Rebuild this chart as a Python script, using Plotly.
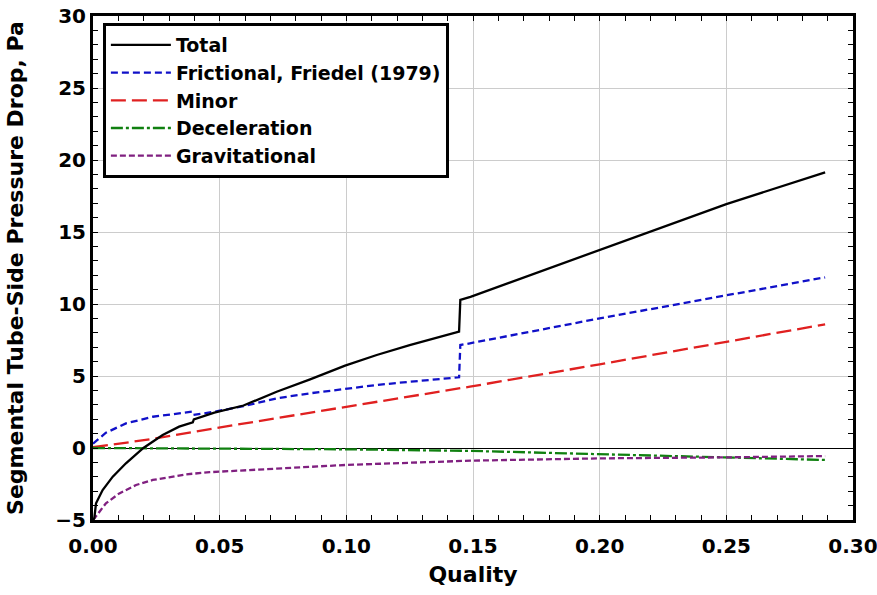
import plotly.graph_objects as go

# ---- data ----
total_x = [0, 0.0005, 0.0012, 0.0038, 0.0078, 0.013, 0.0199, 0.0275, 0.034, 0.0394, 0.0398,
           0.0479, 0.0594, 0.0725, 0.0857, 0.0995, 0.112, 0.125, 0.1445, 0.145, 0.149,
           0.2, 0.25, 0.289]
total_y = [-5.0, -4.88, -3.84, -2.92, -1.99, -1.06, 0.0, 0.9, 1.48, 1.78, 1.99,
           2.45, 2.95, 3.91, 4.77, 5.72, 6.46, 7.15, 8.08, 10.28, 10.5,
           13.75, 16.94, 19.14]

fric_x = [0, 0.0051, 0.013, 0.0236, 0.034, 0.039, 0.0395, 0.0479, 0.0594, 0.0725, 0.0857,
          0.0995, 0.112, 0.125, 0.1445, 0.145, 0.1488, 0.2, 0.25, 0.289]
fric_y = [0.3, 1.06, 1.71, 2.17, 2.4, 2.52, 2.29, 2.52, 2.9, 3.45, 3.8,
          4.1, 4.375, 4.6, 4.91, 7.15, 7.27, 9.0, 10.62, 11.85]

minor_x = [0, 0.0236, 0.048, 0.0995, 0.1488, 0.2, 0.25, 0.289]
minor_y = [0.05, 0.63, 1.37, 2.82, 4.26, 5.81, 7.38, 8.59]

decel_x = [0, 0.05, 0.0995, 0.149, 0.2, 0.25, 0.289]
decel_y = [0.0, -0.03, -0.09, -0.2, -0.42, -0.65, -0.83]

grav_x = [0, 0.0005, 0.0051, 0.0104, 0.017, 0.0236, 0.030, 0.0367, 0.046, 0.0995,
          0.149, 0.2, 0.25, 0.289]
grav_y = [-5.0, -4.9, -3.84, -3.15, -2.57, -2.22, -2.04, -1.83, -1.68, -1.18,
          -0.88, -0.72, -0.65, -0.56]

names = ["Total", "Frictional, Friedel (1979)", "Minor", "Deceleration", "Gravitational"]

FONT = "DejaVu Sans, Liberation Sans, Arial, sans-serif"

fig = go.Figure()
series = [
    (fric_x, fric_y, names[1], "#1010c8", "7px,4px", 2),
    (minor_x, minor_y, names[2], "#e02020", "15px,6px", 3),
    (decel_x, decel_y, names[3], "#108010", "12px,3px,3px,3px", 4),
    (grav_x, grav_y, names[4], "#802080", "6px,3px", 5),
    (total_x, total_y, names[0], "black", "solid", 1),
]
for x, y, nm, col, dash, rank in series:
    fig.add_trace(go.Scatter(x=x, y=y, name=nm, mode="lines", legendrank=rank,
                             line=dict(color=col, width=2.3, dash=dash)))

fig.update_layout(
    width=877, height=595,
    margin=dict(l=93, r=24, t=16, b=75, autoexpand=False),
    plot_bgcolor="white", paper_bgcolor="white",
    font=dict(family=FONT, color="black", size=20, weight="bold"),
    legend=dict(x=0.013, y=0.986, xanchor="left", yanchor="top",
                bgcolor="white", bordercolor="black", borderwidth=3,
                font=dict(size=19, weight="bold", family=FONT, color="black"),
                tracegroupgap=0, itemwidth=60),
)

fig.update_xaxes(
    range=[0, 0.30], dtick=0.05, tick0=0, tickformat=".2f",
    showgrid=True, gridcolor="#cccccc", gridwidth=1,
    showline=True, linecolor="black", linewidth=3, mirror="allticks",
    ticks="inside", ticklen=5, tickcolor="black", tickwidth=1, zeroline=False,
    minor=dict(ticks="inside", dtick=0.01, ticklen=5, tickcolor="black", tickwidth=1, showgrid=False),
    tickfont=dict(size=20, weight="bold", family=FONT),
    ticklabeloverflow="allow", ticklabelstandoff=6,
    title=dict(text="Quality", font=dict(size=22, weight="bold", family=FONT), standoff=10),
    automargin=False,
)
fig.update_yaxes(
    range=[-5, 30], dtick=5, tick0=0,
    showgrid=True, gridcolor="#cccccc", gridwidth=1,
    showline=True, linecolor="black", linewidth=3, mirror="allticks",
    ticks="inside", ticklen=5, tickcolor="black", tickwidth=1,
    zeroline=True, zerolinecolor="black", zerolinewidth=1.2,
    minor=dict(ticks="inside", dtick=1, ticklen=5, tickcolor="black", tickwidth=1, showgrid=False),
    tickfont=dict(size=20, weight="bold", family=FONT),
    ticklabeloverflow="allow",
    title=dict(text="Segmental Tube-Side Pressure Drop, Pa",
               font=dict(size=22, weight="bold", family=FONT), standoff=26),
    automargin=False,
)

fig.write_html("out.html")
